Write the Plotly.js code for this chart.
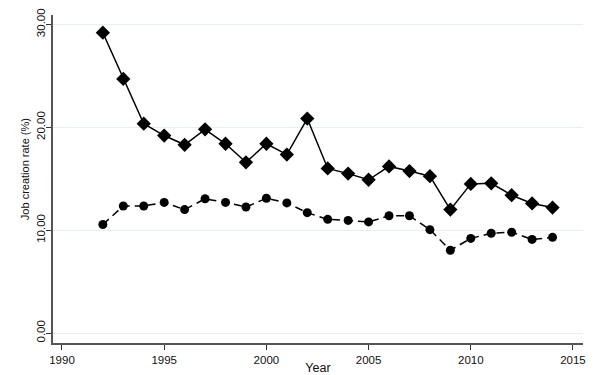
<!DOCTYPE html>
<html>
<head>
<meta charset="utf-8">
<script src="https://cdn.plot.ly/plotly-3.0.1.min.js"></script>
<style>
  body { margin: 0; background: #fff; }
  #graph { width: 598px; height: 375px; }
</style>
</head>
<body>
<div id="graph"></div>
<script>
const years = [1992, 1993, 1994, 1995, 1996, 1997, 1998, 1999, 2000, 2001, 2002, 2003,
  2004, 2005, 2006, 2007, 2008, 2009, 2010, 2011, 2012, 2013, 2014];
const rateSolid = [29.2, 24.7, 20.35, 19.2, 18.3, 19.8, 18.4, 16.6, 18.4, 17.35, 20.85, 16.0,
  15.5, 14.9, 16.2, 15.75, 15.25, 12.0, 14.5, 14.55, 13.4, 12.6, 12.2];
const rateDashed = [10.55, 12.35, 12.35, 12.7, 12.0, 13.05, 12.7, 12.25, 13.1, 12.65, 11.7, 11.05,
  10.95, 10.8, 11.4, 11.4, 10.05, 8.05, 9.2, 9.7, 9.8, 9.1, 9.3];
const yTicks = [0, 10, 20, 30];
const xTicks = [1990, 1995, 2000, 2005, 2010, 2015];

let trace1 = {
  x: years,
  y: rateSolid,
  type: 'scatter',
  mode: 'lines+markers',
  line: { color: '#000', width: 1.5 },
  marker: { symbol: 'diamond', size: 11, color: '#000' },
  showlegend: false
};
let trace2 = {
  x: years,
  y: rateDashed,
  type: 'scatter',
  mode: 'lines+markers',
  line: { color: '#000', width: 1.5, dash: '8px,5px' },
  marker: { symbol: 'circle', size: 9, color: '#000' },
  showlegend: false
};

let layout = {
  width: 598,
  height: 375,
  margin: { l: 53, r: 15, t: 15, b: 32 },
  paper_bgcolor: '#fff',
  plot_bgcolor: '#fff',
  font: { family: 'Liberation Sans, Arial, sans-serif', size: 11, color: '#111' },
  xaxis: {
    range: [1989.56, 2015.49],
    tickvals: xTicks,
    ticks: 'outside',
    ticklen: 5,
    tickcolor: '#333',
    showgrid: false,
    zeroline: false,
    showline: true,
    linecolor: '#555',
    linewidth: 2,
    tickfont: { size: 11.5 },
    title: { text: 'Year', font: { size: 12.5 }, standoff: 1 }
  },
  yaxis: {
    range: [-0.97, 30.92],
    tickvals: yTicks,
    tickformat: '.2f',
    tickangle: -90,
    ticks: 'outside',
    ticklen: 5,
    tickcolor: '#333',
    showgrid: true,
    gridcolor: '#e6f0f2',
    gridwidth: 1,
    zeroline: false,
    showline: true,
    linecolor: '#555',
    linewidth: 2,
    tickfont: { family: 'Liberation Sans Narrow, Arial Narrow, Liberation Sans, sans-serif', size: 11.5 },
    ticklabelstandoff: -4
  },
  annotations: [{
    text: 'Job creation rate (%)',
    xref: 'paper', yref: 'paper',
    x: 0, y: 0.53,
    xshift: -28,
    xanchor: 'center', yanchor: 'middle',
    textangle: -90,
    showarrow: false,
    font: { size: 11 }
  }]
};

Plotly.newPlot('graph', [trace1, trace2], layout, { displayModeBar: false, staticPlot: true });
</script>
</body>
</html>
